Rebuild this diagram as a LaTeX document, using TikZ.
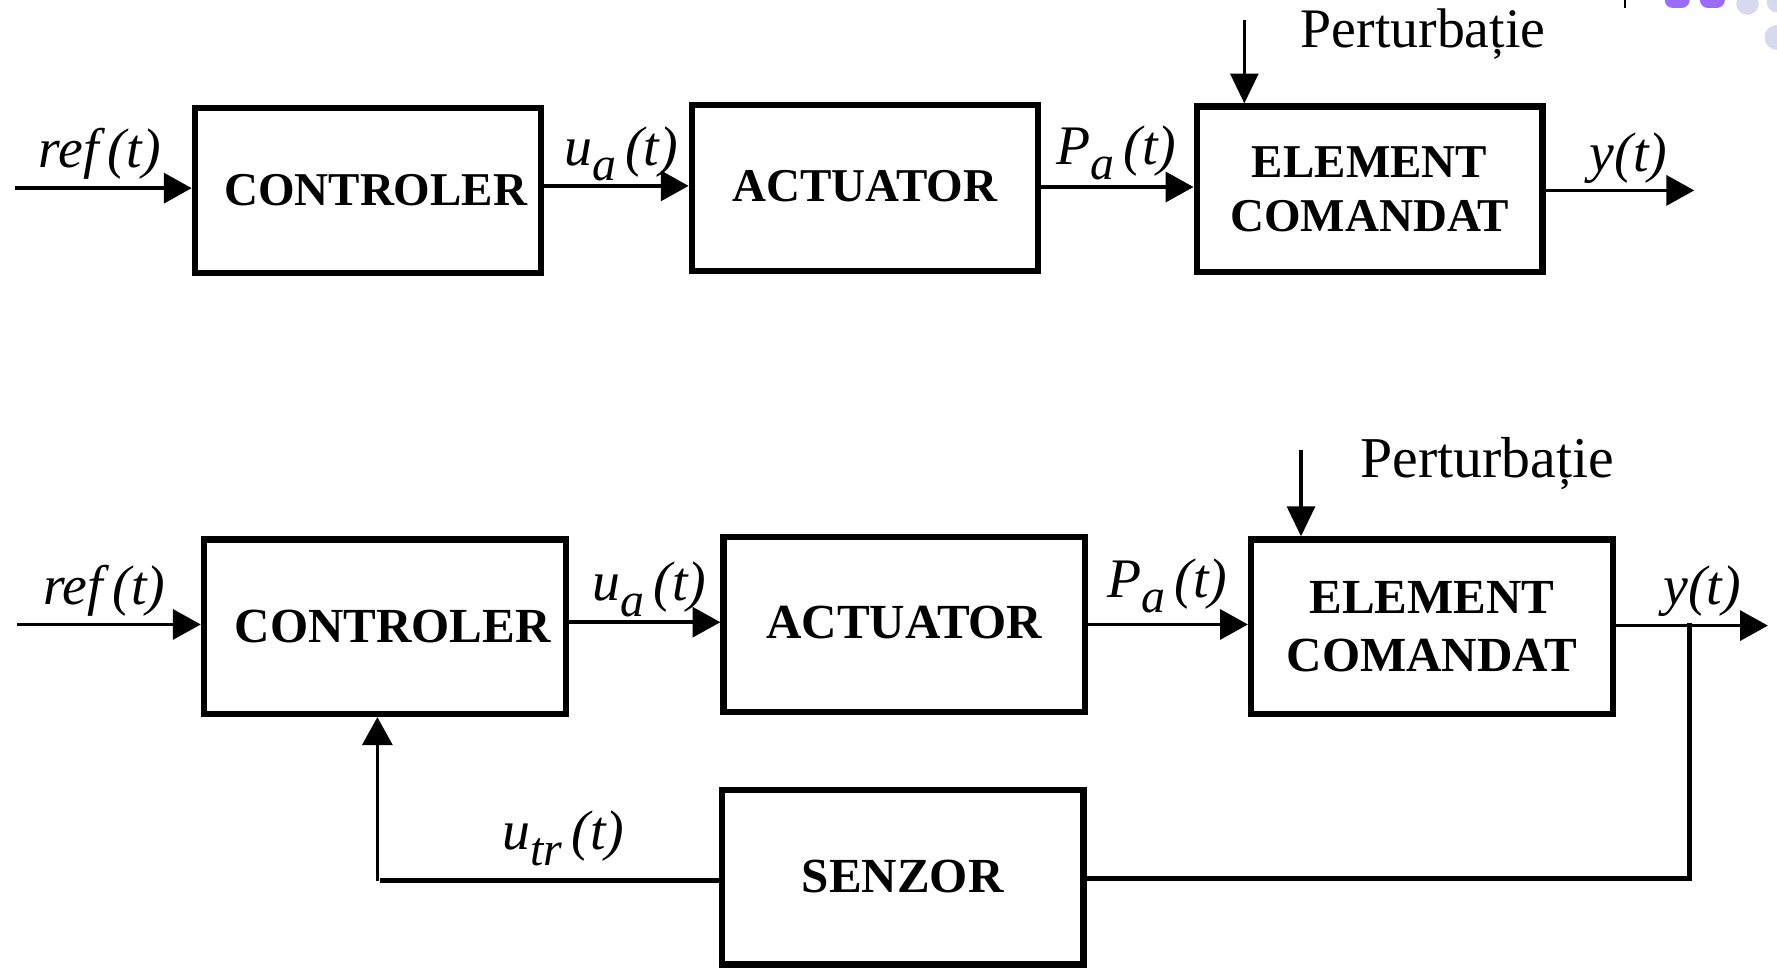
\documentclass[tikz,border=0pt]{standalone}
\usepackage{fontspec}
\setmainfont{Liberation Serif}
\usetikzlibrary{arrows.meta}

% lowered italic subscript for signal names
\newcommand{\lsub}[1]{\raisebox{-0.6ex}{\fontsize{12}{12}\selectfont\itshape #1}}

\definecolor{uiviolet}{HTML}{9B6BFA}
\definecolor{uililac}{HTML}{D8D9EE}

\tikzset{
  blk/.style={draw, line width=1.55pt, inner sep=0pt, align=center},
  rowA/.style={font=\fontsize{11.8}{13.4}\selectfont\bfseries, minimum width=3.05cm, minimum height=1.46cm},
  rowB/.style={font=\fontsize{12.3}{14.4}\selectfont\bfseries, minimum width=3.19cm, minimum height=1.54cm},
  sig/.style={line width=0.95pt, -{Triangle[length=7pt,width=7.5pt]}},
  dist/.style={line width=0.8pt, -{Triangle[length=7.5pt,width=7pt]}},
  fbk/.style={line width=1.25pt},
  lbl/.style={font=\fontsize{14}{16}\selectfont\itshape, inner sep=0pt, anchor=base},
  plbl/.style={inner sep=0pt, anchor=base west},
}

\begin{document}
\begin{tikzpicture}[x=0.01cm, y=-0.01cm]
\useasboundingbox (0,0) rectangle (1568,859);

% ---------------- open loop ----------------
\node[blk, rowA] (c1) at (324.5,168) {\hspace*{4pt}\raisebox{-0.6pt}{CONTROLER}};
\node[blk, rowA] (a1) at (763,166) {\raisebox{1.1pt}{ACTUATOR}};
\node[blk, rowA] (e1) at (1208.5,167) {ELEMENT\\COMANDAT};

\coordinate (in1) at (13,166);
\coordinate (out1) at (1495,168);
\coordinate (d1) at (1098,18);

\draw[sig] (in1) -- (in1 -| c1.west);
\draw[sig] (c1.east |- 0,164) -- (a1.west |- 0,164);
\draw[sig] (a1.east |- 0,165) -- (e1.west |- 0,165);
\draw[sig] (e1.east |- out1) -- (out1);
\draw[dist] (d1) -- (d1 |- e1.north);

\node[lbl] (l1) at (88,148) {ref\,(t)};
\node[lbl] (l2) at (548,146) {u\lsub{a}\,(t)};
\node[lbl] (l3) at (985,145) {P\lsub{a}\,(t)};
\node[lbl] (l4) at (1437,151) {y(t)};
\node[plbl, font=\fontsize{14}{16}\selectfont] (p1) at (1147,42) {Perturbație};

% ---------------- closed loop ----------------
\node[blk, rowB] (c2) at (339.5,553) {\hspace*{4pt}CONTROLER};
\node[blk, rowB] (a2) at (798,551) {\raisebox{1.1pt}{ACTUATOR}};
\node[blk, rowB] (e2) at (1263.5,553) {ELEMENT\\COMANDAT};
\node[blk, rowB] (s2) at (796.5,774) {\raisebox{0.4pt}{SENZOR}};

\coordinate (in2) at (15,551);
\coordinate (out2) at (1560,552);
\coordinate (d2) at (1148,397);
\coordinate (br) at (1491,552);
\coordinate (fb) at (333,777);

\draw[sig] (in2) -- (in2 -| c2.west);
\draw[sig] (c2.east |- 0,549) -- (a2.west |- 0,549);
\draw[sig] (a2.east |- 0,551) -- (e2.west |- 0,551);
\draw[sig] (e2.east |- out2) -- (out2);
\draw[dist] (d2) -- (d2 |- e2.north);

% feedback path through the sensor
\draw[fbk, line cap=rect] (br) -- (br |- 0,775) -- (s2.east |- 0,775);
\draw[line width=1.45pt] (s2.west |- fb) -- ([xshift=0.6pt]fb);
\draw[sig, line width=0.85pt] (fb) -- (fb |- c2.south);

\node[lbl] (l5) at (92,533) {ref\,(t)};
\node[lbl] (l6) at (573,530) {u\lsub{a}\,(t)};
\node[lbl] (l7) at (1030,527) {P\lsub{a}\,(t)};
\node[lbl] (l8) at (1502,533) {y(t)};
\node[lbl] (l9) at (497,750) {u\lsub{tr}\,(t)};
\node[plbl, font=\fontsize{14.5}{16}\selectfont] (p2) at (1200,421) {Perturbație};

% ---------------- screen edge marks ----------------
\draw[line width=0.6pt] (1434,0) -- (1434,7);
\fill[uiviolet, rounded corners=2pt] (1469,-6) rectangle (1491,7);
\fill[uiviolet, rounded corners=2pt] (1500,-6) rectangle (1522,7);
\fill[uililac] (1542,3) circle (10);
\fill[uililac] (1568,2) circle (9);
\fill[uililac] (1568,33) circle (11);
\end{tikzpicture}
\end{document}
